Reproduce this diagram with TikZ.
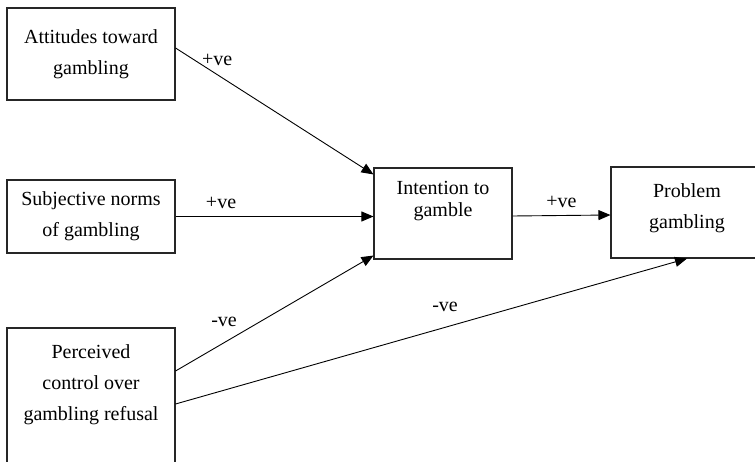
\documentclass[tikz,border=0pt]{standalone}
\usepackage{fontspec}
\setmainfont{Liberation Serif}
\usetikzlibrary{arrows.meta}
\begin{document}
\begin{tikzpicture}[x=1pt, y=-1pt,
    box/.style={draw=black!85, line width=1.1pt, rectangle, inner sep=0pt},
    txt/.style={align=center, inner sep=0pt, font=\fontsize{20}{31}\selectfont},
    lbl/.style={inner sep=0pt, font=\fontsize{20}{24}\selectfont},
    arr/.style={line width=0.9pt, -{Triangle[length=12pt, width=10pt]}}]
    \useasboundingbox (0,0) rectangle (755,462);
    \clip (0,0) rectangle (755,462);

    % left column
    \node[box, txt, minimum width=168pt, minimum height=92pt] (att) at (91,54) {Attitudes toward\\gambling};
    \node[box, txt, minimum width=168pt, minimum height=73pt] (norms) at (91,216.5) {Subjective norms\\of gambling};
    \node[box, minimum width=168pt, minimum height=152pt,
        label={[txt, anchor=north, yshift=-17pt]north:Perceived\\control over\\gambling refusal}] (ctrl) at (91,404) {};

    % middle and right
    \node[box, minimum width=138pt, minimum height=91pt,
        label={[txt, font=\fontsize{20}{22}\selectfont, anchor=north, yshift=-14pt]north:Intention to\\gamble}] (int) at (443,213.5) {};
    \node[box, minimum width=152pt, minimum height=91pt,
        label={[txt, anchor=north, yshift=-17pt]north:Problem\\gambling}] (prob) at (687,212.5) {};

    % paths
    \draw[arr] ([yshift=6pt]att.east) -- ([yshift=-7pt]int.north west) node[lbl, pos=0.21, above=8pt] {+ve};
    \draw[arr] (norms.east) -- (norms.east -| int.west) node[lbl, pos=0.23, above=7pt] {+ve};
    \draw[arr] ([yshift=-2.5pt]int.east) -- ([yshift=-2.5pt]prob.west) node[lbl, midway, above=7pt] {+ve};
    \draw[arr] ([yshift=33pt]ctrl.east) -- ([yshift=4pt]int.south west) node[lbl, pos=0.245, above=16pt] {-ve};
    \draw[arr] (ctrl.east) -- (prob.south) node[lbl, pos=0.527, above=15pt] {-ve};
\end{tikzpicture}
\end{document}
